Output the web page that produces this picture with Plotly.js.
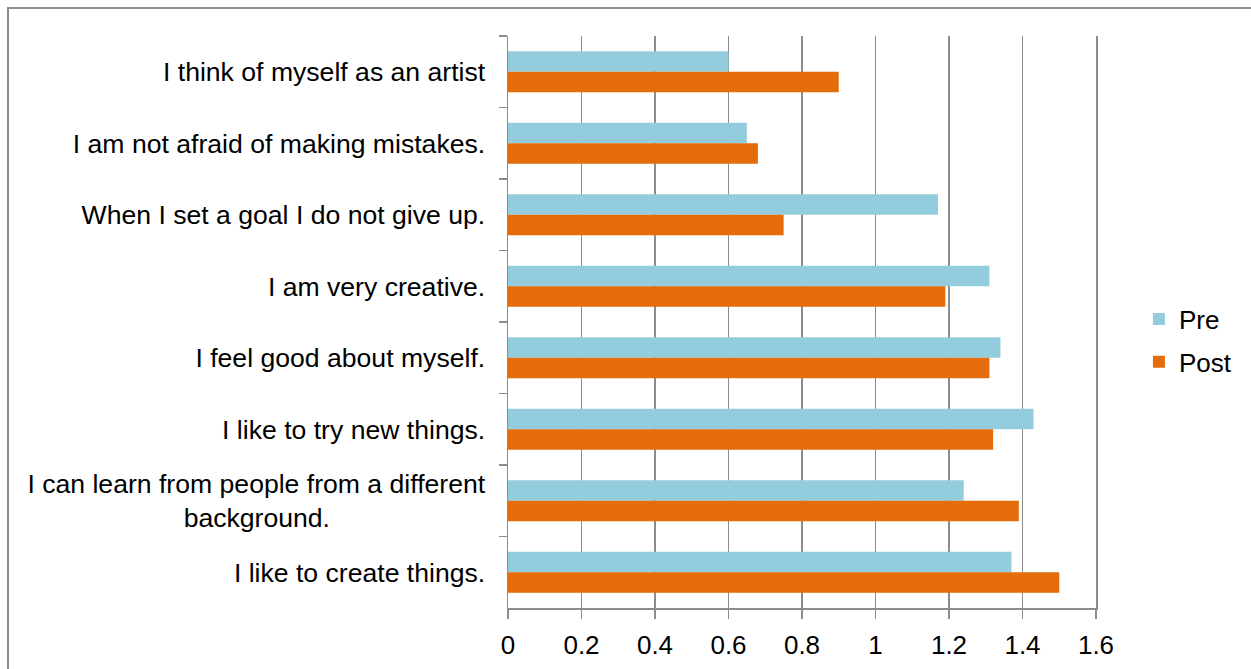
<!DOCTYPE html>
<html>
<head>
<meta charset="utf-8">
<script src="https://cdn.plot.ly/plotly-3.0.1.min.js"></script>
<style>
html,body{margin:0;padding:0;background:#fff;overflow:hidden;}
#chart{position:absolute;left:0;top:0;width:1251px;height:669px;}
#frame{position:absolute;left:7px;top:7px;width:1400px;height:800px;border-left:2px solid #8c8c8c;border-top:2px solid #8c8c8c;pointer-events:none;}
</style>
</head>
<body>
<div id="chart"></div>
<div id="frame"></div>
<script>
const NB = '\u00a0';
const categories = [
  'I think of myself as an artist',
  'I am not afraid of making mistakes.',
  'When I set a goal I do not give up.',
  'I am very creative.',
  'I feel good about myself.',
  'I like to try new things.',
  'I can learn from people from a different<br>background.' + NB.repeat(21),
  'I like to create things.'
];
const preValues  = [0.60, 0.65, 1.17, 1.31, 1.34, 1.43, 1.24, 1.37];
const postValues = [0.90, 0.68, 0.75, 1.19, 1.31, 1.32, 1.39, 1.50];
const seriesNames = ['Pre', 'Post'];
const xTicks = [0, 0.2, 0.4, 0.6, 0.8, 1, 1.2, 1.4, 1.6];

const font = {family: 'Liberation Sans, Arial, sans-serif', size: 26, color: '#000'};
const catFont = {family: 'Liberation Sans, Arial, sans-serif', size: 26.6, color: '#000'};
const axisGrey = '#8c8c8c';

const traces = [
  {type: 'bar', orientation: 'h', name: seriesNames[0], y: categories, x: preValues,
   marker: {color: '#93CDDD', line: {width: 0}}, legendgroup: 'a', hoverinfo: 'x'},
  {type: 'bar', orientation: 'h', name: seriesNames[1], y: categories, x: postValues,
   marker: {color: '#E46C0A', line: {width: 0}}, legendgroup: 'b', hoverinfo: 'x'}
];

const layout = {
  width: 1251, height: 669,
  margin: {l: 508, r: 155, t: 36, b: 61, pad: 0},
  paper_bgcolor: '#fff', plot_bgcolor: '#fff',
  font: font,
  barmode: 'group', bargap: 0.427, bargroupgap: 0,
  showlegend: true,
  legend: {x: 1.073, xanchor: 'left', y: 0.4677, yanchor: 'middle',
           traceorder: 'grouped', tracegroupgap: 6, font: font, bgcolor: 'rgba(0,0,0,0)'},
  xaxis: {range: [0, 1.6], tickvals: xTicks, showgrid: true, gridcolor: axisGrey, gridwidth: 1.5,
          showline: true, linecolor: axisGrey, linewidth: 1.5, ticks: 'outside', ticklen: 9,
          tickcolor: axisGrey, tickwidth: 1.5, zeroline: false, tickfont: font,
          ticklabelstandoff: 4, fixedrange: true},
  yaxis: {type: 'category', autorange: 'reversed', showgrid: false, showline: true, mirror: true,
          linecolor: axisGrey, linewidth: 1.5, ticks: 'outside', ticklen: 8, tickcolor: axisGrey,
          tickwidth: 1.5, tickson: 'boundaries', zeroline: false, tickfont: catFont,
          ticklabelstandoff: 16, fixedrange: true}
};

Plotly.newPlot('chart', traces, layout, {displayModeBar: false, staticPlot: true});
</script>
</body>
</html>
